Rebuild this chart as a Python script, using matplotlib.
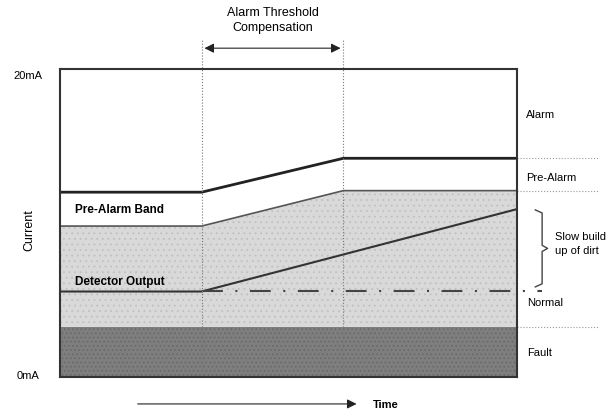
# Diagramma della compensazione della soglia di allarme
import numpy as np
import matplotlib.pyplot as plt
from matplotlib.patches import FancyArrowPatch

plt.rcParams['font.family'] = ['Liberation Sans', 'DejaVu Sans']
plt.rcParams['hatch.color'] = '#bdbdbd'
plt.rcParams['hatch.linewidth'] = 0.6

# Dati (tempo 0-10, corrente in mA)
tempo = [0, 3.1, 6.2, 10]
soglia_allarme = [12.0, 12.0, 14.2, 14.2]
soglia_preallarme = [9.8, 9.8, 12.1, 12.1]
uscita_tempo = [0, 3.1, 10]
uscita_rivelatore = [5.55, 5.55, 10.9]
normale = 5.6
guasto = 3.25
inizio_comp, fine_comp = 3.1, 6.2

fig = plt.figure(figsize=(6.08, 4.14), dpi=100)
ax = fig.add_axes([0.0987, 0.087, 0.7516, 0.744])
ax.set_xlim(0, 10)
ax.set_ylim(0, 20)

# Bande colorate
ax.fill_between([0, 10], 0, guasto, facecolor='#7e7e7e', hatch='....', edgecolor='#666666', linewidth=0)
ax.fill_between(tempo, guasto, soglia_preallarme, facecolor='#d9d9d9', hatch='...', edgecolor='#c0c0c0', linewidth=0)

# Linee principali
ax.plot(tempo, soglia_allarme, color='#222222', lw=2)
ax.plot(tempo, soglia_preallarme, color='#555555', lw=1.2)
ax.plot(uscita_tempo, uscita_rivelatore, color='#333333', lw=1.5)
ax.plot([inizio_comp, 10.55], [normale, normale], color='#444444', lw=1.5,
        linestyle=(0, (10, 6, 1, 6)), clip_on=False)

# Linee verticali tratteggiate
for xv in [inizio_comp, fine_comp]:
    ax.plot([xv, xv], [0, 21.9], color='#777777', lw=0.8, linestyle=':', clip_on=False)

# Linee di separazione a destra
for yv in [14.2, 12.1, guasto]:
    ax.plot([10, 11.8], [yv, yv], color='#999999', lw=0.8, linestyle=':', clip_on=False)

for lato in ['top', 'bottom', 'left', 'right']:
    ax.spines[lato].set_linewidth(1.5)
    ax.spines[lato].set_color('#333333')
ax.set_xticks([])
ax.set_yticks([])

# Etichette
ax.text(-0.7, 19.6, '20mA', fontsize=8, ha='center', va='center', clip_on=False)
ax.text(-0.7, 0.1, '0mA', fontsize=8, ha='center', va='center', clip_on=False)
ax.text(-0.66, 9.6, 'Current', fontsize=9, rotation=90, ha='center', va='center', clip_on=False)
ax.text(0.33, 10.9, 'Pre-Alarm Band', fontsize=8.5, fontweight='bold', va='center')
ax.text(0.33, 6.2, 'Detector Output', fontsize=8.5, fontweight='bold', va='center')

ax.text(10.2, 17.1, 'Alarm', fontsize=8, va='center', clip_on=False)
ax.text(10.2, 13.0, 'Pre-Alarm', fontsize=8, va='center', clip_on=False)
ax.text(10.22, 4.9, 'Normal', fontsize=8, va='center', clip_on=False)
ax.text(10.22, 1.6, 'Fault', fontsize=8, va='center', clip_on=False)
ax.text(10.83, 8.7, 'Slow build\nup of dirt', fontsize=8, va='center', linespacing=1.5, clip_on=False)

# Parentesi graffa
bx, by0, by1 = 10.55, 5.85, 10.85
ym = (by0 + by1) / 2
gx = [bx - 0.15, bx, bx, bx + 0.12, bx, bx, bx - 0.15]
gy = [by1, by1 - 0.2, ym + 0.2, ym, ym - 0.2, by0 + 0.2, by0]
ax.plot(gx, gy, color='#444444', lw=1, clip_on=False)

# Freccia della compensazione
ax.text((inizio_comp + fine_comp) / 2, 23.2, 'Alarm Threshold\nCompensation', fontsize=9,
        ha='center', va='center', linespacing=1.3, clip_on=False)
freccia = FancyArrowPatch((inizio_comp, 21.35), (fine_comp, 21.35), arrowstyle='<|-|>',
                          mutation_scale=14, color='#222222', lw=0.8, clip_on=False)
ax.add_patch(freccia)

# Freccia del tempo
freccia_t = FancyArrowPatch((1.64, -1.75), (6.55, -1.75), arrowstyle='-|>',
                            mutation_scale=14, color='#222222', lw=0.8, clip_on=False)
ax.add_patch(freccia_t)
ax.text(6.85, -1.75, 'Time', fontsize=8, fontweight='bold', va='center', clip_on=False)

plt.savefig('out.png', dpi=100)
